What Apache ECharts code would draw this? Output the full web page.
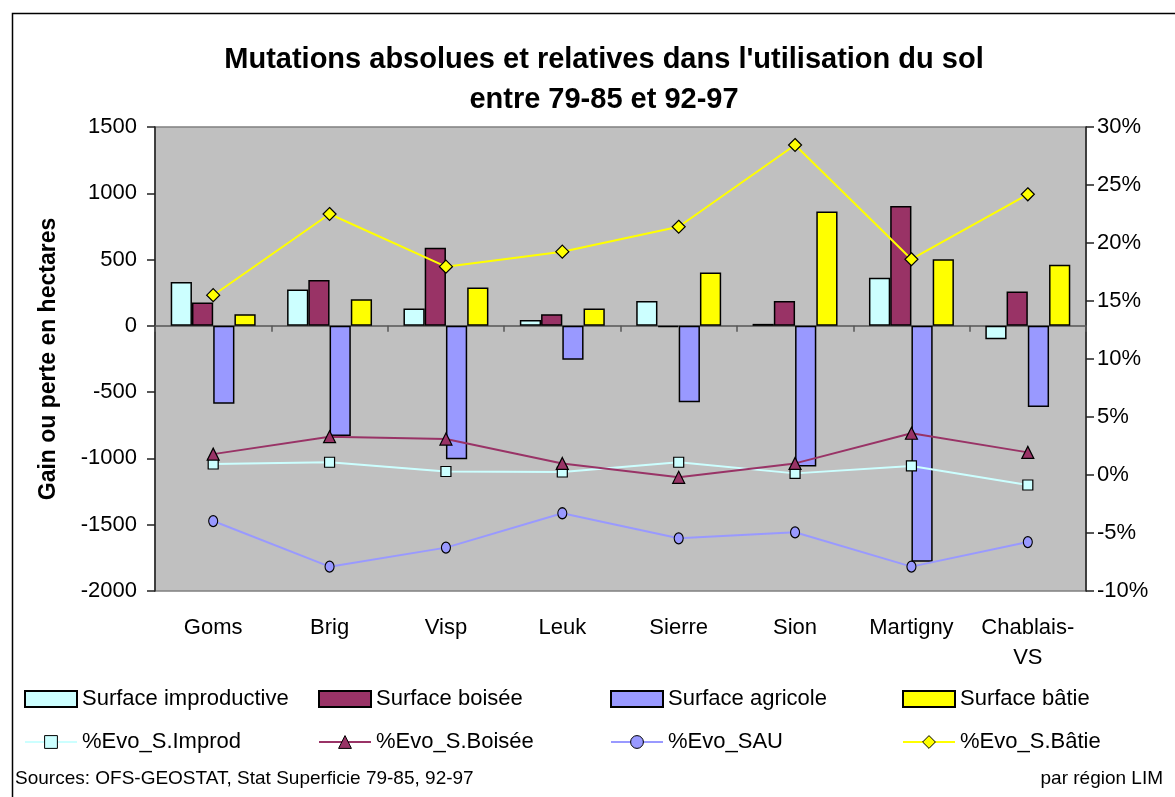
<!DOCTYPE html>
<html>
<head>
<meta charset="utf-8">
<script src="https://cdn.jsdelivr.net/npm/echarts@6/dist/echarts.min.js"></script>
<style>
html,body{margin:0;padding:0;background:#fff;}
#chart{width:1175px;height:797px;}
</style>
</head>
<body>
<div id="chart"></div>
<script>
const categories = ['Goms','Brig','Visp','Leuk','Sierre','Sion','Martigny','Chablais-VS'];
const surfImprod = [330, 274, 131, 45, 188, 15, 362, -101];
const surfBoisee = [176, 345, 590, 88, -10, 188, 905, 259];
const surfAgricole = [-588, -830, -1006, -256, -576, -1061, -1780, -613];
const surfBatie = [88, 201, 289, 131, 402, 862, 503, 460];
const evoImprod = [0.95, 1.1, 0.3, 0.26, 1.1, 0.14, 0.78, -0.86];
const evoBoisee = [1.8, 3.3, 3.1, 1.0, -0.2, 1.0, 3.6, 1.95];
const evoSAU = [-3.97, -7.9, -6.26, -3.3, -5.46, -4.94, -7.9, -5.78];
const evoBatie = [15.5, 22.5, 17.96, 19.25, 21.4, 28.45, 18.6, 24.2];

const FONT = 'Liberation Sans, Arial, sans-serif';
const chart = echarts.init(document.getElementById('chart'), null, {renderer:'canvas'});

function barSeries(name, data, color){
  return {name, type:'bar', data, barGap:'0%', barCategoryGap:'27%',
    itemStyle:{color, borderColor:'#000', borderWidth:1.5}, animation:false};
}
function lineSeries(name, data, color, symbol, size){
  return {name, type:'line', yAxisIndex:1, data, symbol, symbolSize:size,
    lineStyle:{color, width:2}, itemStyle:{color, borderColor:'#000', borderWidth:1.2},
    animation:false, z:5};
}
const legendText = {fontFamily:FONT, fontSize:22, color:'#000'};
function legendCol(left, names){
  return {orient:'vertical', left, top:683, itemWidth:52, itemHeight:16, itemGap:21,
    textStyle:legendText, selectedMode:false,
    data:[{name:names[0], icon:'rect'}, {name:names[1], itemStyle:{borderWidth:1}}]};
}

chart.setOption({
  backgroundColor:'#fff',
  title:{text:"Mutations absolues et relatives dans l'utilisation du sol\nentre 79-85 et 92-97",
    left:599, top:35, textAlign:'center',
    textStyle:{fontFamily:FONT, fontSize:29, fontWeight:'bold', color:'#000', lineHeight:40}},
  grid:{left:155, top:127, right:89, bottom:206, show:true, backgroundColor:'#c0c0c0',
    borderColor:'#808080', borderWidth:1.5},
  legend:[
    legendCol(19, ['Surface improductive','%Evo_S.Improd']),
    legendCol(313, ['Surface boisée','%Evo_S.Boisée']),
    legendCol(605, ['Surface agricole','%Evo_SAU']),
    legendCol(897, ['Surface bâtie','%Evo_S.Bâtie'])
  ],
  xAxis:[
    {type:'category', data:categories, position:'bottom',
      axisLine:{show:false, onZero:false}, axisTick:{show:false},
      axisLabel:{fontFamily:FONT, fontSize:22, color:'#000', margin:22, interval:0,
        formatter:v=>v.replace('-', '-\n'), lineHeight:30}},
    {type:'category', data:categories, position:'bottom',
      axisLine:{show:true, onZero:true, lineStyle:{color:'#555', width:1.5}},
      axisTick:{show:true, length:6, lineStyle:{color:'#555', width:1.5}},
      axisLabel:{show:false}}
  ],
  yAxis:[
    {type:'value', min:-2000, max:1500, interval:500, position:'left',
      name:'Gain ou perte en hectares', nameLocation:'middle', nameGap:95, nameRotate:90,
      nameTextStyle:{fontFamily:FONT, fontSize:23, fontWeight:'bold', color:'#000'},
      axisLine:{show:true, lineStyle:{color:'#222', width:1.5}},
      axisTick:{show:true, length:8, lineStyle:{color:'#222', width:1.5}},
      axisLabel:{fontFamily:FONT, fontSize:22, color:'#000', margin:18, formatter:v=>String(v)},
      splitLine:{show:false}},
    {type:'value', min:-10, max:30, interval:5, position:'right',
      axisLine:{show:true, lineStyle:{color:'#222', width:1.5}},
      axisTick:{show:true, length:8, lineStyle:{color:'#222', width:1.5}},
      axisLabel:{fontFamily:FONT, fontSize:22, color:'#000', margin:11, formatter:'{value}%'},
      splitLine:{show:false}}
  ],
  series:[
    barSeries('Surface improductive', surfImprod, '#ccffff'),
    barSeries('Surface boisée', surfBoisee, '#993366'),
    barSeries('Surface agricole', surfAgricole, '#9999ff'),
    barSeries('Surface bâtie', surfBatie, '#ffff00'),
    lineSeries('%Evo_S.Improd', evoImprod, '#ccffff', 'rect', [10,10]),
    lineSeries('%Evo_S.Boisée', evoBoisee, '#993366', 'triangle', [12,12]),
    lineSeries('%Evo_SAU', evoSAU, '#9999ff', 'circle', [9,11]),
    lineSeries('%Evo_S.Bâtie', evoBatie, '#ffff00', 'diamond', [13,13])
  ],
  graphic:[
    {type:'rect', left:10, top:11, shape:{width:1200, height:820}, silent:true,
      style:{fill:'none', stroke:'#000', lineWidth:1.5}},
    {type:'text', left:15, top:769, style:{text:'Sources: OFS-GEOSTAT, Stat Superficie 79-85, 92-97',
      font:'19px Liberation Sans, Arial, sans-serif', fill:'#000'}},
    {type:'text', right:12, top:769, style:{text:'par région LIM',
      font:'19px Liberation Sans, Arial, sans-serif', fill:'#000'}}
  ]
});
</script>
</body>
</html>
